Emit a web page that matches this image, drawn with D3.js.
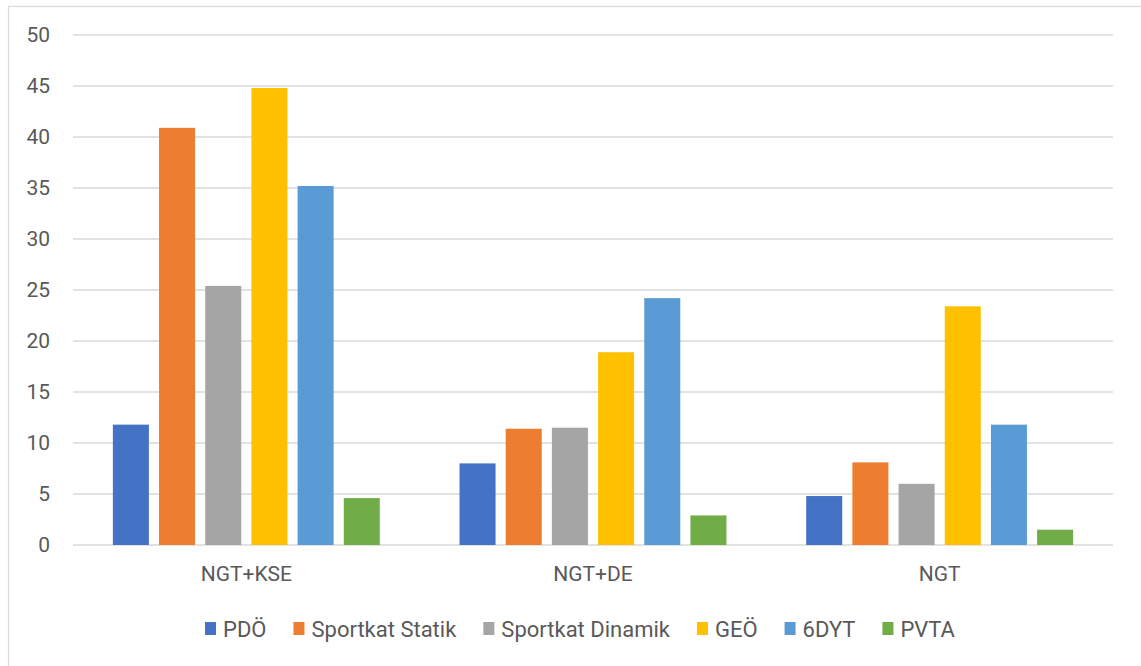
<!DOCTYPE html>
<html>
<head>
<meta charset="utf-8">
<script src="https://cdn.jsdelivr.net/npm/d3@7"></script>
<style>
  html, body { margin: 0; padding: 0; background: #fff; }
  svg text { font-family: Roboto, "Liberation Sans", sans-serif; fill: #595959; }
</style>
</head>
<body>
<svg id="chart" width="1141" height="666"></svg>
<script>
// Groups along the x axis
const categories = ["NGT+KSE", "NGT+DE", "NGT"];
// Series, in legend order
const seriesNames = ["PDÖ", "Sportkat Statik", "Sportkat Dinamik", "GEÖ", "6DYT", "PVTA"];
const seriesColors = ["#4472c4", "#ed7d31", "#a5a5a5", "#ffc000", "#5b9bd5", "#70ad47"];
// Values per series, one per category
const pdo      = [11.8, 8.0, 4.8];
const statik   = [40.9, 11.4, 8.1];
const dinamik  = [25.4, 11.5, 6.0];
const geo      = [44.8, 18.9, 23.4];
const dyt6     = [35.2, 24.2, 11.8];
const pvta     = [4.6, 2.9, 1.5];
const yTicks   = [0, 5, 10, 15, 20, 25, 30, 35, 40, 45, 50];

const seriesValues = [pdo, statik, dinamik, geo, dyt6, pvta];

const svg = d3.select("#chart");
const W = 1141, H = 666;
const plot = { left: 73, right: 1113, top: 35, bottom: 545 };
const fontStack = "Roboto, 'Liberation Sans', sans-serif";

// outer chart frame
svg.append("rect")
  .attr("x", 8.5).attr("y", 6.5)
  .attr("width", W + 20).attr("height", H + 20)
  .attr("fill", "none").attr("stroke", "#d9d9d9").attr("stroke-width", 1.2);

const y = d3.scaleLinear().domain([0, 50]).range([plot.bottom, plot.top]);
const x0 = d3.scaleBand().domain(categories).range([plot.left, plot.right]).padding(0);
const groupWidth = x0.bandwidth() * 0.77;
const x1 = d3.scaleBand().domain(seriesNames)
  .range([-groupWidth / 2, groupWidth / 2])
  .paddingInner(0.22).paddingOuter(0);

// horizontal gridlines
svg.append("g").selectAll("line").data(yTicks).join("line")
  .attr("x1", plot.left).attr("x2", plot.right)
  .attr("y1", d => y(d)).attr("y2", d => y(d))
  .attr("stroke", "#d9d9d9").attr("stroke-width", 1.4);

// y axis labels
const yAxis = d3.axisLeft(y).tickValues(yTicks).tickSize(0).tickPadding(0).tickFormat(d3.format("d"));
const yg = svg.append("g").attr("transform", `translate(50,0)`).call(yAxis);
yg.select(".domain").remove();
yg.selectAll("text").attr("font-size", 21).attr("fill", "#595959")
  .style("font-family", fontStack);

// bars
const barData = [];
seriesNames.forEach((s, si) => {
  categories.forEach((c, ci) => {
    barData.push({ series: s, cat: c, value: seriesValues[si][ci], color: seriesColors[si] });
  });
});
svg.append("g").selectAll("rect").data(barData).join("rect")
  .attr("x", d => x0(d.cat) + x0.bandwidth() / 2 + x1(d.series))
  .attr("width", x1.bandwidth())
  .attr("y", d => y(d.value))
  .attr("height", d => y(0) - y(d.value))
  .attr("fill", d => d.color);

// x axis labels
const xAxis = d3.axisBottom(x0).tickSize(0).tickPadding(0);
const xg = svg.append("g").attr("transform", `translate(0,${plot.bottom + 21})`).call(xAxis);
xg.select(".domain").remove();
xg.selectAll("text").attr("font-size", 21).attr("fill", "#595959")
  .style("font-family", fontStack);

// legend
const legend = svg.append("g");
const sq = 11, textGap = 7, itemGap = 27;
let cursor = 0;
seriesNames.forEach((name, i) => {
  const g = legend.append("g");
  g.append("rect").attr("x", 0).attr("y", -15).attr("width", sq).attr("height", sq + 2)
    .attr("fill", seriesColors[i]);
  const t = g.append("text").attr("x", sq + textGap).attr("y", 0)
    .attr("font-size", 22).text(name);
  const w = sq + textGap + t.node().getComputedTextLength();
  g.attr("transform", `translate(${cursor},0)`);
  cursor += w + itemGap;
});
const legendWidth = cursor - itemGap;
legend.attr("transform", `translate(${580 - legendWidth / 2},637)`);
</script>
</body>
</html>
